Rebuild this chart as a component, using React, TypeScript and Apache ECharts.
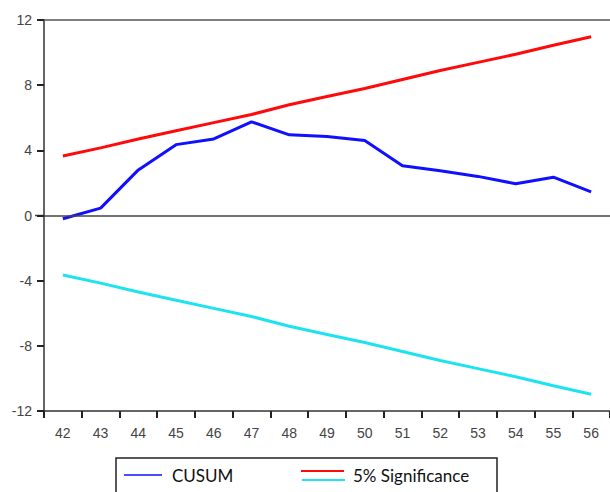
import React, { useEffect, useRef } from "react";
import * as echarts from "echarts";

const categories = ["42","43","44","45","46","47","48","49","50","51","52","53","54","55","56"];
const cusum = [-0.2, 0.45, 2.8, 4.35, 4.7, 5.75, 4.95, 4.85, 4.6, 3.05, 2.75, 2.4, 1.95, 2.35, 1.45];
const upper = [3.65, 4.15, 4.7, 5.2, 5.7, 6.2, 6.8, 7.3, 7.8, 8.35, 8.9, 9.4, 9.9, 10.45, 10.97];
const lower = [-3.65, -4.15, -4.7, -5.2, -5.7, -6.2, -6.8, -7.3, -7.8, -8.35, -8.9, -9.4, -9.9, -10.45, -10.97];
const legendLabels = ["CUSUM", "5% Significance"];

export default function App() {
  const ref = useRef<HTMLDivElement>(null);
  useEffect(() => {
    if (!ref.current) return;
    const chart = echarts.init(ref.current, null, { renderer: "svg" });
    const axisFont = { fontFamily: "Liberation Sans, Arial, sans-serif", fontSize: 14, color: "#444" };
    chart.setOption({
      animation: false,
      backgroundColor: "#fff",
      grid: { left: 44, top: 20, right: 0, bottom: 81, show: false, containLabel: false },
      xAxis: [
        {
          type: "category",
          position: "bottom",
          data: categories,
          boundaryGap: true,
          axisLine: { show: true, onZero: false, lineStyle: { color: "#333", width: 1.5 } },
          axisTick: { show: true, interval: 0, length: 7, lineStyle: { color: "#222", width: 2 } },
          axisLabel: { ...axisFont, margin: 15, interval: 0 },
          splitLine: { show: false },
        },
        {
          type: "category",
          position: "top",
          data: categories,
          axisLine: { show: true, onZero: false, lineStyle: { color: "#555", width: 1.5 } },
          axisTick: { show: false },
          axisLabel: { show: false },
        },
      ],
      yAxis: {
        type: "value",
        min: -12,
        max: 12,
        interval: 4,
        axisLine: { show: true, onZero: false, lineStyle: { color: "#333", width: 1.5 } },
        axisTick: { show: true, length: 7, inside: false, lineStyle: { color: "#222", width: 2 } },
        axisLabel: { ...axisFont, margin: 12 },
        splitLine: { show: false },
      },
      series: [
        {
          name: legendLabels[0],
          type: "line",
          data: cusum,
          symbol: "none",
          lineStyle: { color: "#1010ff", width: 3 },
          z: 3,
          markLine: {
            silent: true,
            symbol: "none",
            label: { show: false },
            lineStyle: { color: "#444", width: 1.5, type: "solid" },
            data: [{ yAxis: 0 }],
          },
        },
        {
          name: legendLabels[1],
          type: "line",
          data: upper,
          symbol: "none",
          lineStyle: { color: "#ff0a0a", width: 3 },
        },
        {
          name: "lower",
          type: "line",
          data: lower,
          symbol: "none",
          lineStyle: { color: "#1de3f0", width: 3 },
        },
      ],
      graphic: [
        { type: "line", shape: { x1: 35, y1: 215.5, x2: 44, y2: 215.5 }, style: { stroke: "#444", lineWidth: 1.5 } },
        { type: "rect", shape: { x: 116, y: 458, width: 381, height: 50 }, style: { fill: "#fff", stroke: "#222", lineWidth: 1.5 } },
        { type: "line", shape: { x1: 124, y1: 475, x2: 162, y2: 475 }, style: { stroke: "#1010ff", lineWidth: 1.5 } },
        { type: "text", x: 172, y: 475, style: { text: legendLabels[0], fontFamily: "Lato, Open Sans, sans-serif", fontSize: 17, fill: "#111", verticalAlign: "middle" } },
        { type: "line", shape: { x1: 301, y1: 471, x2: 344, y2: 471 }, style: { stroke: "#ff0a0a", lineWidth: 2 } },
        { type: "line", shape: { x1: 302, y1: 480, x2: 345, y2: 480 }, style: { stroke: "#1de3f0", lineWidth: 2 } },
        { type: "text", x: 353, y: 475, style: { text: legendLabels[1], fontFamily: "Lato, Open Sans, sans-serif", fontSize: 17, fill: "#111", verticalAlign: "middle" } },
      ],
    });
    return () => chart.dispose();
  }, []);
  return <div ref={ref} style={{ width: 610, height: 492, position: "fixed", left: 0, top: 0 }} />;
}
